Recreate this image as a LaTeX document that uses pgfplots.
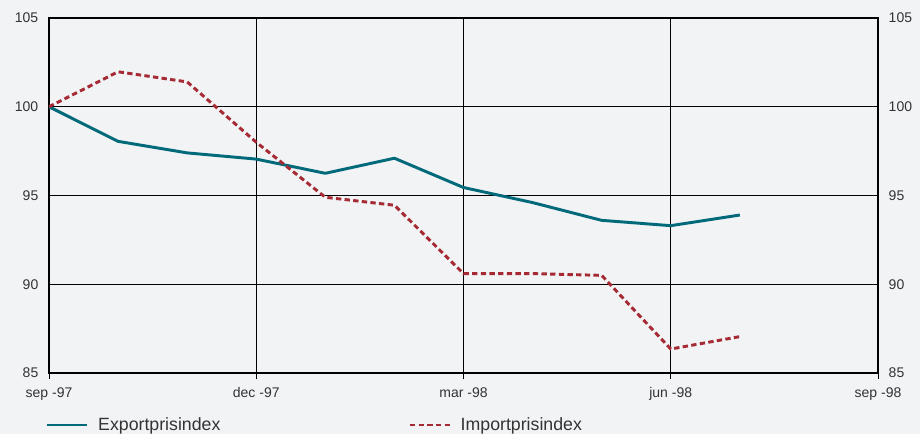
\documentclass[border=0pt]{standalone}
\usepackage{pgfplots}
\pgfplotsset{compat=1.18}
\usepackage{fontspec}
\setmainfont{Liberation Sans}
\definecolor{bg}{HTML}{F2F3F5}
\definecolor{expc}{HTML}{00697A}
\definecolor{impc}{HTML}{A52A34}
\definecolor{txt}{HTML}{333333}
\begin{document}
\begin{tikzpicture}
\fill[bg] (-36.75pt,-45.75pt) rectangle (653.25pt,279.75pt);
\begin{axis}[
  at={(0pt,0pt)}, anchor=south west,
  scale only axis, width=621.75pt, height=266.25pt,
  xmin=0, xmax=12, ymin=85, ymax=105,
  xtick={0,3,6,9,12},
  xticklabels={sep -97, dec -97, mar -98, jun -98, sep -98},
  ytick={85,90,95,100,105},
  grid=major,
  major grid style={black, line width=0.6pt},
  axis line style={black, line width=0.8pt},
  xtick pos=bottom, xtick align=outside, major tick length=4.5pt,
  xtick style={black, line width=0.6pt},
  ytick style={draw=none},
  yticklabel pos=left,
  tick label style={font=\fontsize{10.5}{12}\selectfont, text=txt},
  yticklabel style={xshift=-4.5pt},
  xticklabel style={yshift=-3pt},
  /pgf/number format/assume math mode=true,
  axis background/.style={fill=bg},
  legend columns=2,
  legend style={draw=none, fill=none, inner sep=0pt, at={(-0.004,-0.1465)}, anchor=west,
    font=\fontsize{13.3}{15}\selectfont, text=txt,
    /tikz/every odd column/.append style={column sep=5pt},
    /tikz/every even column/.append style={column sep=139pt}},
  legend image code/.code={\draw[#1] (0pt,0pt) -- (30pt,0pt);},
]
\addplot[expc, line width=2.2pt, line join=round] coordinates {
(0,100) (1,98.05) (2,97.4) (3,97.05) (4,96.25) (5,97.1) (6,95.45) (7,94.6) (8,93.6) (9,93.3) (10,93.9)};
\addlegendentry{Exportprisindex}
\addplot[impc, line width=2.2pt, dash pattern=on 4pt off 2.5pt] coordinates {
(0,100) (1,101.97) (2,101.4) (3,98.0) (4,94.9) (5,94.45) (6,90.6) (7,90.6) (8,90.5) (9,86.35) (10,87.05)};
\addlegendentry{Importprisindex}
\end{axis}
\begin{axis}[
  at={(0pt,0pt)}, anchor=south west,
  scale only axis, width=621.75pt, height=266.25pt,
  xmin=0, xmax=12, ymin=85, ymax=105,
  axis x line=none, axis y line*=right,
  axis line style={black, line width=0.8pt},
  ytick={85,90,95,100,105},
  ytick style={draw=none},
  yticklabel pos=right,
  tick label style={font=\fontsize{10.5}{12}\selectfont, text=txt},
  yticklabel style={xshift=4.5pt},
  /pgf/number format/assume math mode=true,
]
\addplot[draw=none] coordinates {(0,100)};
\end{axis}
\end{tikzpicture}
\end{document}
